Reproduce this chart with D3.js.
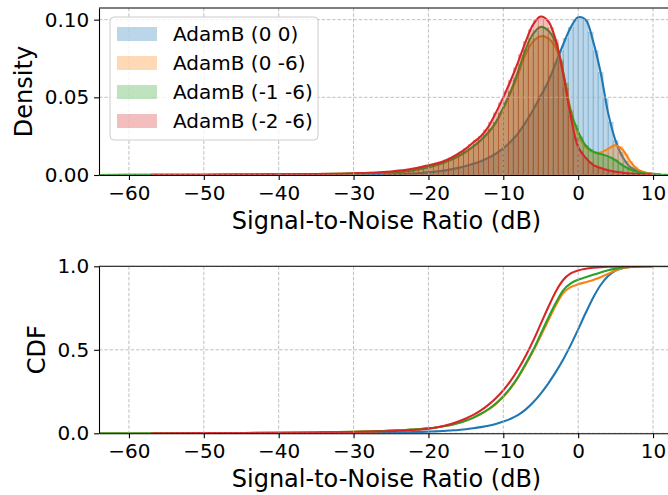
<!DOCTYPE html>
<html><head><meta charset="utf-8">
<script src="https://cdn.jsdelivr.net/npm/d3@7"></script>
<style>
body{margin:0;background:#fff}
svg{display:block}
text{font-family:"DejaVu Sans",sans-serif}
</style>
</head><body>
<svg id="chart" width="668" height="495"></svg>
<script>
// ---------- data ----------
const seriesNames = ["AdamB (0 0)", "AdamB (0 -6)", "AdamB (-1 -6)", "AdamB (-2 -6)"];
const seriesColors = ["#1f77b4", "#ff7f0e", "#2ca02c", "#d62728"];

// SNR sample points (dB) for the KDE and CDF curves
const snrGrid = [-64,-57,-50,-45,-40,-35,-32,-30,-28,-26,
  -25,-24,-23,-22,-21,-20,-19,-18,-17,-16,-15,-14,-13,-12,-11,-10,-9,-8,-7,-6,-5,-4,-3,-2,-1,
  0,1,2,3,4,5,6,7,8,9,10,11,12];

// KDE density values at snrGrid (null = outside the series' support)
const kdeBlue = [null,0.0,0.00003,0.00005,0.0001,0.0001,0.00015,0.0002,0.0003,0.0004,
  0.0005,0.0006,0.0008,0.001,0.0013,0.0017,0.0022,0.0028,0.0036,0.0046,0.0058,0.0072,0.0089,0.011,0.0138,0.0172,0.0215,0.027,0.034,0.042,0.051,0.06,0.072,0.084,0.095,
  0.1015,0.1,0.086,0.066,0.04,0.022,0.011,0.005,0.0028,0.0014,0.0007,0.0003,null];
const kdeOrange = [0,0.0001,0.0002,0.0003,0.0004,0.0006,0.0008,0.001,0.0012,0.0015,
  0.0017,0.0019,0.0024,0.003,0.0039,0.0049,0.0062,0.0077,0.0096,0.0119,0.0147,0.0182,0.0222,0.0272,0.0335,0.0425,0.053,0.065,0.078,0.086,0.0893,0.088,0.082,0.066,0.042,
  0.026,0.018,0.0148,0.0145,0.0168,0.0192,0.016,0.0085,0.0034,0.0015,0.0007,0.0003,null];
const kdeGreen = [0,0.0001,0.0002,0.0003,0.0004,0.0006,0.0008,0.001,0.0012,0.0015,
  0.0017,0.0019,0.0024,0.0031,0.004,0.005,0.0064,0.0079,0.0099,0.0122,0.015,0.0185,0.0225,0.0275,0.034,0.0435,0.054,0.067,0.081,0.091,0.0953,0.093,0.085,0.066,0.041,
  0.028,0.019,0.015,0.0135,0.012,0.0095,0.006,0.0035,0.002,0.001,0.0005,0.0002,0.0001];
const kdeRed = [null,0.0001,0.0002,0.0003,0.0004,0.0006,0.0008,0.0011,0.0014,0.0019,
  0.0023,0.0028,0.0034,0.0042,0.0052,0.0063,0.0074,0.0089,0.011,0.0137,0.017,0.021,0.025,0.031,0.04,0.05,0.061,0.073,0.086,0.097,0.102,0.099,0.087,0.065,0.038,
  0.018,0.011,0.0065,0.0045,0.003,0.0021,0.0015,0.001,0.0006,0.0003,0.0001,null,null];

// empirical CDF values at snrGrid
const cdfBlue = [null,0,0.0002,0.0003,0.0005,0.001,0.0015,0.002,0.0028,0.0038,
  0.0045,0.0052,0.006,0.007,0.0083,0.01,0.0118,0.014,0.017,0.02,0.024,0.03,0.037,0.045,0.056,0.07,0.087,0.11,0.143,0.186,0.238,0.298,0.366,0.442,0.528,
  0.622,0.72,0.812,0.888,0.942,0.975,0.99,0.996,0.998,0.999,1.0,null,null];
const cdfOrange = [0,0.0005,0.001,0.002,0.003,0.005,0.007,0.009,0.011,0.014,
  0.016,0.018,0.02,0.023,0.026,0.03,0.035,0.042,0.05,0.061,0.075,0.093,0.115,0.142,0.175,0.218,0.27,0.335,0.41,0.492,0.582,0.675,0.765,0.84,0.875,
  0.892,0.905,0.918,0.935,0.955,0.975,0.99,0.996,0.999,1.0,1.0,null,null];
const cdfGreen = [0,0.0005,0.001,0.002,0.003,0.005,0.007,0.009,0.011,0.014,
  0.016,0.018,0.02,0.023,0.026,0.03,0.035,0.042,0.05,0.061,0.076,0.094,0.117,0.144,0.178,0.222,0.275,0.34,0.418,0.5,0.595,0.69,0.78,0.856,0.898,
  0.92,0.934,0.949,0.963,0.976,0.986,0.993,0.997,0.999,1.0,1.0,1.0,1.0];
const cdfRed = [null,0,0.0008,0.0015,0.003,0.005,0.0065,0.008,0.01,0.012,
  0.013,0.015,0.017,0.02,0.023,0.028,0.035,0.044,0.056,0.071,0.089,0.11,0.137,0.17,0.21,0.258,0.315,0.385,0.465,0.555,0.655,0.755,0.848,0.918,0.957,
  0.975,0.985,0.991,0.995,0.997,0.998,0.999,0.9995,1.0,1.0,1.0,null,null];

// histogram (density) bars: common bins starting at histBinStart, width histBinWidth
const histBinStart = -26;
const histBinWidth = 2 / 3;
const histBlue = [0.00045,0.0005,0.00057, 0.0007,0.0008,0.00095, 0.0011,0.0013,0.0016, 0.0019,0.0022,0.0026,
  0.0031,0.0036,0.0043, 0.005,0.0058,0.0067, 0.0078,0.0089,0.0103, 0.0119,0.0138,0.016, 0.0186,0.0215,0.025,
  0.0293,0.034,0.0393, 0.045,0.051,0.057, 0.064,0.072,0.08, 0.088,0.095,0.0995, 0.1015,0.1,0.092,
  0.08,0.066,0.049, 0.034,0.022,0.0145, 0.009,0.005,0.0035, 0.0023,0.0014,0.0009, 0.0005,0.0002,0];
const histOrange = [0.0016,0.0017,0.0018, 0.0021,0.0024,0.0028, 0.0033,0.0039,0.0045, 0.0053,0.0062,0.0072,
  0.0083,0.0096,0.0111, 0.0128,0.0147,0.017, 0.0195,0.0222,0.0255, 0.0292,0.0335,0.039, 0.046,0.053,0.061,
  0.069,0.078,0.0835, 0.0875,0.0893,0.0888, 0.0865,0.082,0.072, 0.059,0.042,0.031, 0.0225,0.018,0.0158,
  0.0146,0.0145,0.0155, 0.0176,0.0192,0.0182, 0.0135,0.0085,0.0052, 0.0027,0.0015,0.0009, 0.0005,0.0003,0];
const histGreen = [0.0016,0.0017,0.0018, 0.0021,0.0024,0.0028, 0.0034,0.004,0.0046, 0.0055,0.0064,0.0074,
  0.0086,0.0099,0.0114, 0.0131,0.015,0.0173, 0.0198,0.0225,0.0258, 0.0296,0.034,0.04, 0.047,0.054,0.0625,
  0.0715,0.081,0.088, 0.0925,0.0953,0.0945, 0.091,0.085,0.074, 0.059,0.041,0.032, 0.0245,0.019,0.0163,
  0.0145,0.0135,0.0127, 0.0115,0.0095,0.0073, 0.0052,0.0035,0.0024, 0.0016,0.001,0.0007, 0.0004,0.0002,0.0001];
const histRed = [0.0021,0.0023,0.0026, 0.003,0.0034,0.0039, 0.0045,0.0052,0.0059, 0.0067,0.0074,0.0084,
  0.0096,0.011,0.0127, 0.0148,0.017,0.0196, 0.0225,0.025,0.029, 0.034,0.04,0.0465, 0.054,0.061,0.069,
  0.0775,0.086,0.0935, 0.0995,0.102,0.1, 0.095,0.087,0.073, 0.056,0.038,0.024, 0.015,0.011,0.008,
  0.0058,0.0045,0.0035, 0.0027,0.0021,0.0017, 0.0013,0.001,0.0007, 0.0005,0.0003,0.0002, 0.0001,0,0];

// axis ticks
const xTicks = [-60,-50,-40,-30,-20,-10,0,10];
const xTickLabels = ["\u221260","\u221250","\u221240","\u221230","\u221220","\u221210","0","10"];
const densityTicks = [0, 0.05, 0.10];
const densityTickLabels = ["0.00","0.05","0.10"];
const cdfTicks = [0, 0.5, 1.0];
const cdfTickLabels = ["0.0","0.5","1.0"];
const xAxisTitle = "Signal-to-Noise Ratio (dB)";

const kdeSeries = [kdeBlue, kdeOrange, kdeGreen, kdeRed];
const cdfSeries = [cdfBlue, cdfOrange, cdfGreen, cdfRed];
const histSeries = [histBlue, histOrange, histGreen, histRed];

// ---------- drawing ----------
const svg = d3.select("#chart");
const X0 = 99, X1 = 674;
const x = d3.scaleLinear().domain([-64, 12.8]).range([X0, X1]);
const gridColor = "#b0b0b0";

function makePanel(id, top, bottom, ymax, ticks, tickLabels, title, titleX) {
  const y = d3.scaleLinear().domain([0, ymax]).range([bottom, top]);
  svg.append("clipPath").attr("id", id).append("rect")
    .attr("x", X0).attr("y", top).attr("width", X1 - X0).attr("height", bottom - top);
  const data = svg.append("g").attr("clip-path", `url(#${id})`);
  const grid = () => {
    const gg = svg.append("g").attr("clip-path", `url(#${id})`);
    gg.selectAll(".vx").data(xTicks).join("line")
      .attr("x1", d => x(d)).attr("x2", d => x(d)).attr("y1", top).attr("y2", bottom)
      .attr("stroke", gridColor).attr("stroke-width", 0.8).attr("stroke-dasharray", "3.5,1.8");
    gg.selectAll(".hy").data(ticks).join("line")
      .attr("x1", X0).attr("x2", X1).attr("y1", d => y(d)).attr("y2", d => y(d))
      .attr("stroke", gridColor).attr("stroke-width", 0.8).attr("stroke-dasharray", "3.5,1.8");
    return gg;
  };
  const axes = () => {
    const xa = svg.append("g").attr("transform", `translate(0,${bottom})`)
      .call(d3.axisBottom(x).tickValues(xTicks).tickFormat((d, i) => xTickLabels[i])
        .tickSizeInner(4.9).tickSizeOuter(0).tickPadding(5.9));
    const ya = svg.append("g").attr("transform", `translate(${X0},0)`)
      .call(d3.axisLeft(y).tickValues(ticks).tickFormat((d, i) => tickLabels[i])
        .tickSizeInner(4.9).tickSizeOuter(0).tickPadding(4.9));
    [xa, ya].forEach(a => {
      a.selectAll("text").attr("font-size", 20).attr("fill", "#000")
        .attr("font-family", "DejaVu Sans, sans-serif");
      a.selectAll("line").attr("stroke", "#000").attr("stroke-width", 1.1);
      a.select(".domain").attr("stroke", "#000").attr("stroke-width", 1.1);
    });
    svg.append("line").attr("x1", X0).attr("x2", X1).attr("y1", top).attr("y2", top)
      .attr("stroke", "#000").attr("stroke-width", 1.1);
    svg.append("text").attr("x", (X0 + X1) / 2).attr("y", bottom + 54)
      .attr("text-anchor", "middle").attr("font-size", 24).attr("fill", "#000").text(xAxisTitle);
    svg.append("text").attr("transform", `translate(${titleX},${(top + bottom) / 2}) rotate(-90)`)
      .attr("text-anchor", "middle").attr("font-size", 24).attr("fill", "#000").text(title);
  };
  return {y, data, grid, axes};
}

// ---- top panel: histogram + KDE ----
const p1 = makePanel("clipTop", 8, 175, 0.1075, densityTicks, densityTickLabels, "Density", 32);
const kdeLine = d3.line()
  .defined(d => d[1] !== null)
  .x(d => x(d[0])).y(d => p1.y(d[1]))
  .curve(d3.curveCatmullRom.alpha(0.5));

histSeries.forEach((hs, si) => {
  const col = seriesColors[si];
  p1.data.append("g").selectAll("rect").data(hs).join("rect")
    .attr("x", (d, i) => x(histBinStart + i * histBinWidth))
    .attr("width", x(histBinStart + histBinWidth) - x(histBinStart))
    .attr("y", d => p1.y(d))
    .attr("height", d => p1.y(0) - p1.y(d))
    .attr("fill", col).attr("fill-opacity", 0.3)
    .attr("stroke", col).attr("stroke-opacity", 0.35).attr("stroke-width", 0.6);
  if (si === 3) p1.grid();
  p1.data.append("path")
    .datum(snrGrid.map((s, i) => [s, kdeSeries[si][i]]))
    .attr("d", kdeLine).attr("fill", "none")
    .attr("stroke", col).attr("stroke-width", 2.1);
});
p1.axes();

// legend
const lg = svg.append("g");
lg.append("rect").attr("x", 110).attr("y", 17).attr("width", 208).attr("height", 123)
  .attr("rx", 4).attr("fill", "#fff").attr("fill-opacity", 0.8)
  .attr("stroke", "#cccccc").attr("stroke-width", 1);
seriesNames.forEach((n, i) => {
  const cy = 34 + i * 29;
  lg.append("rect").attr("x", 117).attr("y", cy - 7).attr("width", 40).attr("height", 14)
    .attr("fill", seriesColors[i]).attr("fill-opacity", 0.3);
  lg.append("text").attr("x", 173).attr("y", cy + 7).attr("font-size", 20)
    .attr("fill", "#000").text(n);
});

// ---- bottom panel: CDF ----
const p2 = makePanel("clipBottom", 266.3, 433.3, 1, cdfTicks, cdfTickLabels, "CDF", 45);
p2.grid();
const cdfLine = d3.line()
  .defined(d => d[1] !== null)
  .x(d => x(d[0])).y(d => p2.y(d[1]))
  .curve(d3.curveMonotoneX);
cdfSeries.forEach((cs, si) => {
  p2.data.append("path")
    .datum(snrGrid.map((s, i) => [s, cs[i]]))
    .attr("d", cdfLine).attr("fill", "none")
    .attr("stroke", seriesColors[si]).attr("stroke-width", 2.1);
});
p2.axes();
</script>
</body></html>
